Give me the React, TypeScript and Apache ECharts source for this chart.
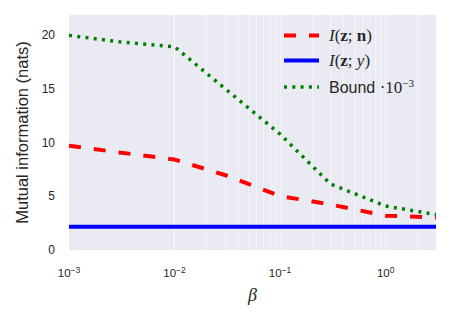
import React, { useEffect, useRef } from "react";
import * as echarts from "echarts";

// β values at which the quantities were evaluated
const betas = [0.001, 0.003, 0.01, 0.03, 0.1, 0.3, 1, 3];
// I(z; n) in nats
const infoZN = [9.72, 9.09, 8.43, 6.99, 5.03, 4.24, 3.2, 3.03];
// I(z; y) in nats
const infoZY = [2.17, 2.17, 2.17, 2.17, 2.17, 2.17, 2.17, 2.17];
// Variational bound, scaled by 1e-3
const boundScaled = [20.0, 19.4, 18.94, 15.05, 10.8, 6.15, 4.1, 3.3];

const X_MIN = 0.001;
const X_MAX = 3;
const Y_MIN = 0;
const Y_MAX = 21.9;
const Y_STEP = 5;

const TEXT = "#262626";
const SERIF = "Liberation Serif";
const SANS = "Liberation Sans";

// white log-grid lines at 1..9 × 10^k inside the x range
const gridBetas: number[] = [];
for (let k = -3; k <= 0; k++) {
  for (let m = 1; m <= 9; m++) {
    const v = m * Math.pow(10, k);
    if (v > X_MIN * 1.0001 && v < X_MAX * 0.9999) gridBetas.push(v);
  }
}

const pairs = (ys: number[]) => betas.map((b, i) => [b, ys[i]]);

export default function App() {
  const ref = useRef<HTMLDivElement>(null);

  useEffect(() => {
    if (!ref.current) return;
    const chart = echarts.init(ref.current, undefined, { renderer: "svg" });

    const legendRich = {
      it: { fontFamily: SERIF, fontStyle: "italic", fontSize: 17, color: TEXT },
      rm: { fontFamily: SERIF, fontSize: 17, color: TEXT },
      bf: { fontFamily: SERIF, fontWeight: "bold", fontSize: 17, color: TEXT },
      sans: { fontFamily: SANS, fontSize: 16, color: TEXT },
      sup: { fontFamily: SERIF, fontSize: 11, padding: [0, 0, 9, 0], color: TEXT },
    };

    chart.setOption({
      animation: false,
      grid: {
        left: 69,
        right: 15,
        top: 15,
        bottom: 73,
        show: true,
        backgroundColor: "#EAEAF2",
        borderWidth: 0,
      },
      legend: {
        data: ["I(z; n)", "I(z; y)", "Bound"],
        orient: "vertical",
        left: 282,
        top: 27,
        padding: 0,
        itemWidth: 35,
        itemHeight: 14,
        itemGap: 8,
        itemStyle: { opacity: 0 },
        lineStyle: { width: "inherit" },
        textStyle: { padding: [0, 0, 0, 5], rich: legendRich },
        formatter: (name: string) => {
          if (name === "I(z; n)") return "{it|I}{rm|(}{bf|z}{rm|; }{bf|n}{rm|)}";
          if (name === "I(z; y)") return "{it|I}{rm|(}{bf|z}{rm|; }{it|y}{rm|)}";
          return "{sans|Bound }{rm|·10}{sup|−3}";
        },
      },
      xAxis: {
        type: "log",
        logBase: 10,
        min: X_MIN,
        max: X_MAX,
        name: "β",
        nameLocation: "middle",
        nameGap: 36,
        nameTextStyle: { fontFamily: SERIF, fontStyle: "italic", fontSize: 18, color: TEXT },
        axisLine: { show: false },
        axisTick: { show: false },
        splitLine: { show: false },
        axisLabel: {
          margin: 15,
          showMaxLabel: false,
          formatter: (v: number) => {
            const e = Math.log10(v);
            const r = Math.round(e);
            if (Math.abs(e - r) > 1e-6) return "";
            return `{b|10}{s|${r < 0 ? "−" + -r : r}}`;
          },
          rich: {
            b: { fontFamily: SANS, fontSize: 11.5, color: TEXT },
            s: { fontFamily: SANS, fontSize: 8.5, padding: [0, 0, 6, 0], color: TEXT },
          },
        },
      },
      yAxis: {
        type: "value",
        min: Y_MIN,
        max: Y_MAX,
        interval: Y_STEP,
        name: "Mutual information (nats)",
        nameLocation: "middle",
        nameGap: 37,
        nameTextStyle: { fontFamily: SANS, fontSize: 16.5, color: TEXT },
        axisLine: { show: false },
        axisTick: { show: false },
        splitLine: { show: false },
        axisLabel: {
          margin: 14,
          showMaxLabel: false,
          fontFamily: SANS,
          fontSize: 12,
          color: TEXT,
        },
      },
      series: [
        {
          name: "grid",
          type: "line",
          data: [],
          z: 1,
          silent: true,
          markLine: {
            silent: true,
            symbol: "none",
            z: 1,
            label: { show: false },
            lineStyle: { color: "rgba(255,255,255,0.45)", width: 1, type: "solid" },
            data: gridBetas.map((b) => ({ xAxis: b })),
          },
        },
        {
          name: "I(z; n)",
          type: "line",
          data: pairs(infoZN),
          showSymbol: false,
          symbol: "none",
          z: 3,
          lineStyle: { color: "#FF0000", width: 4, type: [12, 13] },
          itemStyle: { color: "#FF0000" },
        },
        {
          name: "I(z; y)",
          type: "line",
          data: pairs(infoZY),
          showSymbol: false,
          symbol: "none",
          z: 3,
          lineStyle: { color: "#0000FF", width: 4, type: "solid" },
          itemStyle: { color: "#0000FF" },
        },
        {
          name: "Bound",
          type: "line",
          data: pairs(boundScaled),
          showSymbol: false,
          symbol: "none",
          z: 3,
          lineStyle: { color: "#008000", width: 3.5, type: [3, 5.3] },
          itemStyle: { color: "#008000" },
        },
      ],
    });

    return () => chart.dispose();
  }, []);

  return <div ref={ref} style={{ width: 451, height: 323, position: "absolute", left: 0, top: 0 }} />;
}
